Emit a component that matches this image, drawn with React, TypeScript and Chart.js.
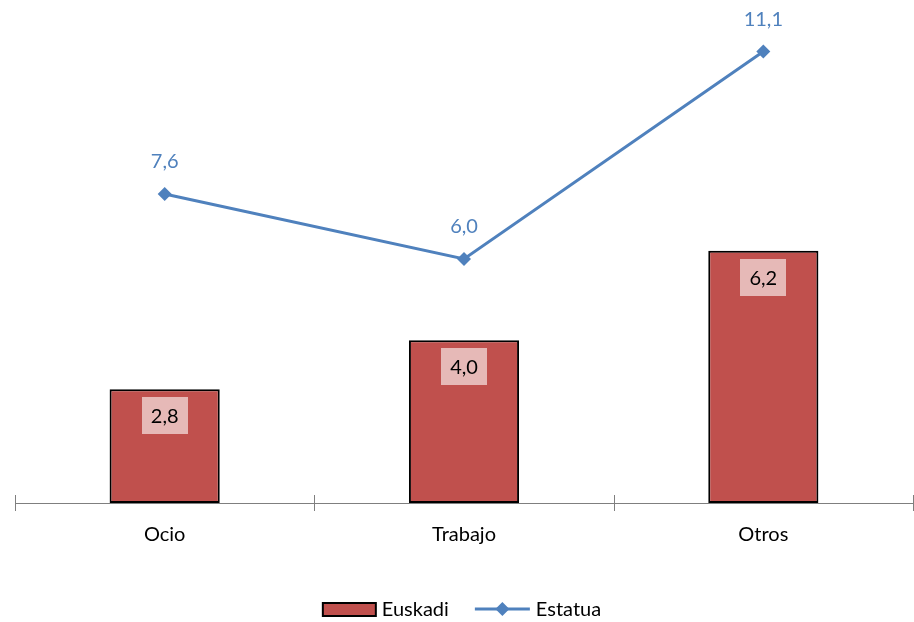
import React, { useEffect, useRef } from "react";
import { Chart, registerables } from "chart.js";

Chart.register(...registerables);

const categories = ["Ocio", "Trabajo", "Otros"];
const euskadi = [2.8, 4.0, 6.2];
const estatua = [7.6, 6.0, 11.1];
const seriesNames = ["Euskadi", "Estatua"];

const FONT = "Lato, 'Open Sans', 'Noto Sans', sans-serif";
const FS = 20;
const RED = "#C0504D";
const BLUE = "#4F81BD";

const fmt = (v: number) => v.toFixed(1).replace(".", ",");

const customPlugin = {
  id: "custom",
  beforeDatasetsDraw(chart: any) {
    const { ctx, chartArea } = chart;
    const xs = chart.scales.x;
    const y = chartArea.bottom;
    ctx.save();
    ctx.strokeStyle = "#7f7f7f";
    ctx.lineWidth = 1;
    ctx.beginPath();
    ctx.moveTo(chartArea.left, y + 0.5);
    ctx.lineTo(chartArea.right, y + 0.5);
    const half = (xs.getPixelForValue(1) - xs.getPixelForValue(0)) / 2;
    for (let i = 0; i <= categories.length; i++) {
      const x = Math.round(xs.getPixelForValue(i) - half) + 0.5;
      ctx.moveTo(x, y - 8);
      ctx.lineTo(x, y + 8);
    }
    ctx.stroke();
    ctx.restore();
  },
  afterDatasetsDraw(chart: any) {
    const { ctx } = chart;
    ctx.save();
    ctx.font = `${FS}px ${FONT}`;
    ctx.textAlign = "center";
    ctx.textBaseline = "middle";
    const barMeta = chart.getDatasetMeta(0);
    barMeta.data.forEach((el: any, i: number) => {
      const t = fmt(euskadi[i]);
      const w = ctx.measureText(t).width + 18;
      const h = 37;
      const top = el.y + 8;
      ctx.fillStyle = "rgba(255,255,255,0.6)";
      ctx.fillRect(Math.round(el.x - w / 2), Math.round(top), Math.round(w), h);
      ctx.fillStyle = "#000";
      ctx.fillText(t, el.x, top + h / 2 + 1);
    });
    const lineMeta = chart.getDatasetMeta(1);
    lineMeta.data.forEach((el: any, i: number) => {
      ctx.fillStyle = BLUE;
      ctx.fillText(fmt(estatua[i]), el.x, el.y - 32);
    });
    ctx.restore();
  },
  afterDraw(chart: any) {
    const { ctx, width } = chart;
    ctx.save();
    ctx.font = `${FS}px ${FONT}`;
    ctx.textBaseline = "middle";
    ctx.textAlign = "left";
    const w1 = ctx.measureText(seriesNames[0]).width;
    const w2 = ctx.measureText(seriesNames[1]).width;
    const boxW = 53, lineW = 55, gap = 6, between = 26;
    const total = boxW + gap + w1 + between + lineW + gap + w2;
    let x = width / 2 + 5 - total / 2;
    const cy = 609;
    ctx.fillStyle = RED;
    ctx.fillRect(x, cy - 6, boxW, 13);
    ctx.strokeStyle = "#000";
    ctx.lineWidth = 2;
    ctx.strokeRect(x, cy - 6, boxW, 13);
    x += boxW + gap;
    ctx.fillStyle = "#000";
    ctx.fillText(seriesNames[0], x, cy + 1);
    x += w1 + between;
    ctx.strokeStyle = BLUE;
    ctx.lineWidth = 3;
    ctx.beginPath();
    ctx.moveTo(x, cy);
    ctx.lineTo(x + lineW, cy);
    ctx.stroke();
    const dx = x + lineW / 2;
    ctx.fillStyle = BLUE;
    ctx.beginPath();
    ctx.moveTo(dx, cy - 7);
    ctx.lineTo(dx + 7, cy);
    ctx.lineTo(dx, cy + 7);
    ctx.lineTo(dx - 7, cy);
    ctx.closePath();
    ctx.fill();
    x += lineW + gap;
    ctx.fillStyle = "#000";
    ctx.fillText(seriesNames[1], x, cy + 1);
    ctx.restore();
  },
};

export default function App() {
  const ref = useRef<HTMLCanvasElement | null>(null);
  useEffect(() => {
    if (!ref.current) return;
    const chart = new Chart(ref.current, {
      type: "bar",
      data: {
        labels: categories,
        datasets: [
          {
            type: "bar",
            label: seriesNames[0],
            data: euskadi,
            backgroundColor: RED,
            borderColor: "#000",
            borderWidth: 2,
            borderSkipped: false,
            categoryPercentage: 1,
            barPercentage: 0.368,
            order: 2,
          },
          {
            type: "line",
            label: seriesNames[1],
            data: estatua,
            borderColor: BLUE,
            backgroundColor: BLUE,
            borderWidth: 3,
            pointStyle: "rectRot",
            pointRadius: 7,
            pointBorderWidth: 0,
            tension: 0,
            order: 1,
          } as any,
        ],
      },
      options: {
        responsive: false,
        animation: false,
        layout: { autoPadding: false, padding: { left: 15, right: 1, top: 15, bottom: 0 } },
        plugins: { legend: { display: false }, tooltip: { enabled: false } },
        scales: {
          x: {
            grid: { display: false, drawTicks: false },
            border: { display: false },
            ticks: { color: "#000", font: { family: FONT, size: FS }, padding: 20 },
            afterFit: (s: any) => {
              s.height = 119;
            },
          },
          y: { display: false, min: 0, max: 12 },
        },
      },
      plugins: [customPlugin],
    });
    return () => chart.destroy();
  }, []);
  return (
    <div style={{ position: "absolute", left: 0, top: 0, width: 914, height: 622, background: "#fff" }}>
      <canvas ref={ref} width={914} height={622} />
    </div>
  );
}
